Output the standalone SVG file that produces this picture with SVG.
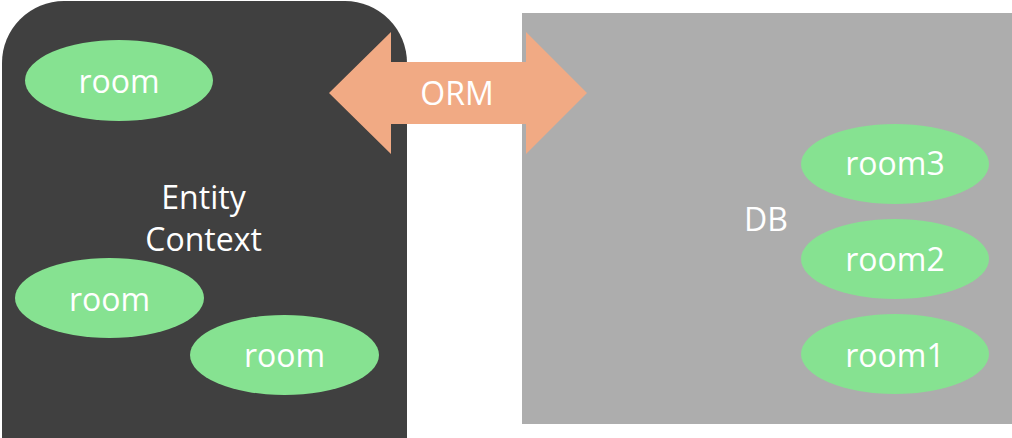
<svg xmlns="http://www.w3.org/2000/svg" width="1012" height="438" viewBox="0 0 1012 438">
<style>
.lbl{font-family:"Open Sans","Liberation Sans",sans-serif;font-size:32px;fill:#ffffff;text-anchor:middle}
.room{fill:#86E291}
</style>
<rect width="1012" height="438" fill="#ffffff"/>
<g id="entity-context">
<path d="M64,1 H345 A62,62 0 0 1 407,63 V438 H2 V63 A62,62 0 0 1 64,1 Z" fill="#404040"/>
<text class="lbl" x="203.5" y="209">Entity</text>
<text class="lbl" x="203.5" y="251">Context</text>
</g>
<g id="db">
<rect x="522" y="13" width="490" height="411" fill="#ADADAD"/>
<text class="lbl" x="766" y="231">DB</text>
</g>
<g id="room-a">
<ellipse class="room" cx="119" cy="80.5" rx="94" ry="40.5"/>
<text class="lbl" x="119" y="92.5">room</text>
</g>
<g id="room-b">
<ellipse class="room" cx="109.5" cy="298" rx="94.5" ry="40"/>
<text class="lbl" x="109.5" y="311">room</text>
</g>
<g id="room-c">
<ellipse class="room" cx="284.5" cy="355" rx="94.5" ry="40"/>
<text class="lbl" x="284.5" y="367">room</text>
</g>
<g id="room3">
<ellipse class="room" cx="895" cy="164" rx="94" ry="40"/>
<text class="lbl" x="895" y="175">room3</text>
</g>
<g id="room2">
<ellipse class="room" cx="895" cy="259" rx="94" ry="40"/>
<text class="lbl" x="895" y="270.5">room2</text>
</g>
<g id="room1">
<ellipse class="room" cx="895" cy="354" rx="94" ry="40"/>
<text class="lbl" x="895" y="366.5">room1</text>
</g>
<g id="connectors">
<g id="orm">
<polygon points="329,93 391,32 391,62 526,62 526,32 587,93 526,154 526,124 391,124 391,154" fill="#F1AA84"/>
<text class="lbl" x="457" y="105">ORM</text>
</g>
</g>
</svg>
